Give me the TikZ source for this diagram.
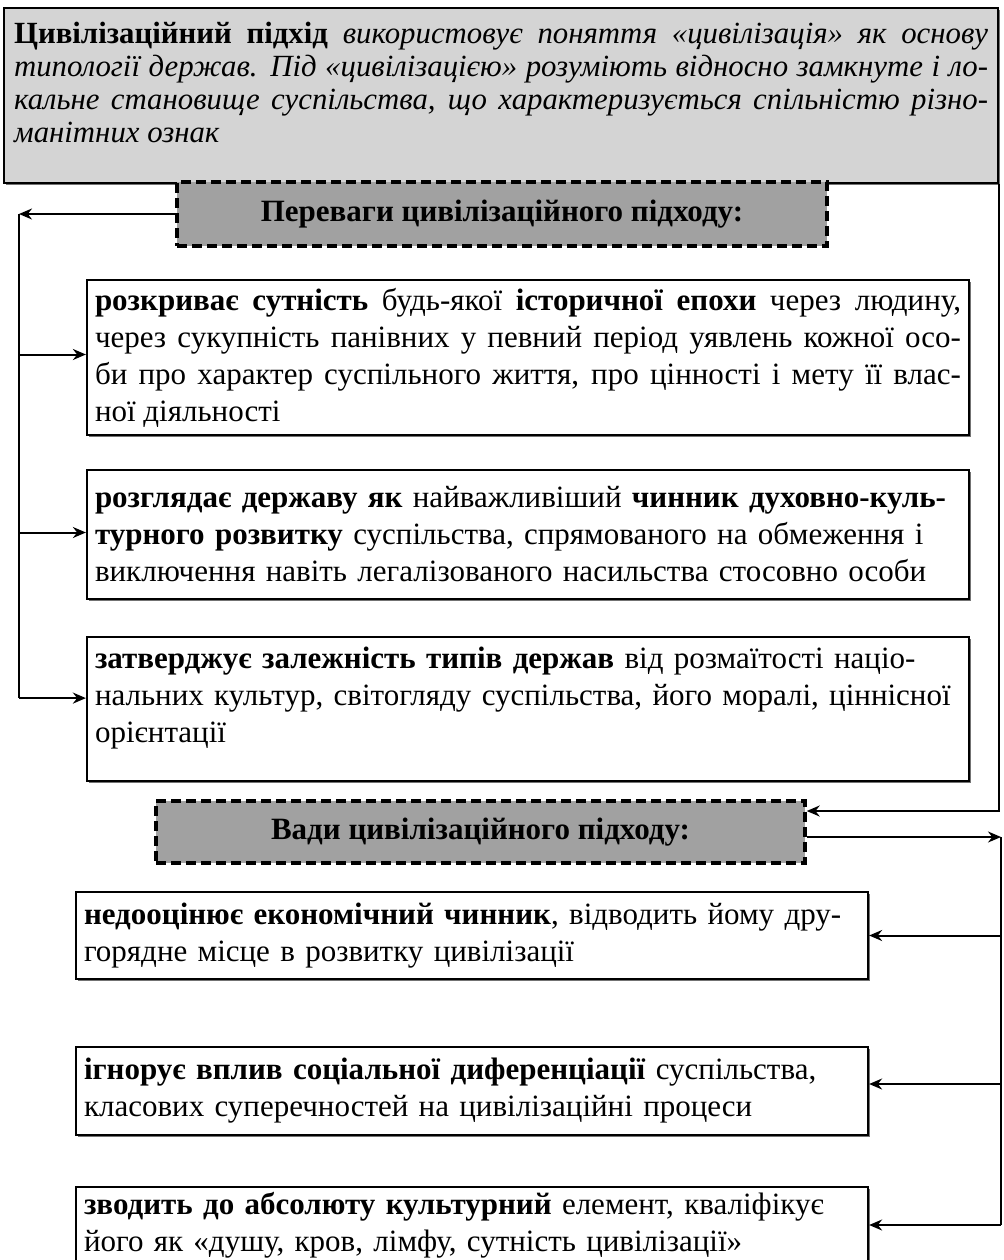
\documentclass[tikz,border=0pt]{standalone}
\usepackage{fontspec}
\setmainfont{Liberation Serif}
\usepackage{tikz}
\usetikzlibrary{arrows.meta, shadows}
\definecolor{introgray}{gray}{0.83}
\definecolor{headgray}{gray}{0.63}
\tolerance=9999

\begin{document}
\begin{tikzpicture}[x=0.5pt, y=-0.5pt, >={Stealth[length=6.5pt, width=5.5pt]},
	link/.style={line width=1pt},
	arr/.style={->, line width=1pt},
	shade/.style={drop shadow={shadow xshift=0.8pt, shadow yshift=-0.8pt, fill=black!55, opacity=1}},
	box/.style={draw, line width=1.1pt, fill=white, shade, inner xsep=4pt, inner ysep=0pt,
		align=left, font={\fontsize{15.5}{18.5}\selectfont}},
	head/.style={draw, line width=1.7pt, dash pattern=on 5pt off 2.5pt, fill=headgray,
		font={\bfseries\fontsize{15.5}{18}\selectfont}}]
	\useasboundingbox (0,0) rectangle (1003,1260);
	\node[draw, line width=1.1pt, fill=introgray, shade, anchor=north west, inner xsep=5pt, inner ysep=0pt,
		text width=487pt, text height=17.5pt, text depth=70pt, align=justify,
		font={\itshape\fontsize{15.4}{16.5}\selectfont}] (intro) at (3,7)
	{\textbf{\upshape Цивілізаційний підхід} використовує поняття «цивілізація» як основу\linebreak
		типології держав. Під «цивілізацією» розуміють відносно замкнуте і ло-\linebreak
		кальне становище суспільства, що характеризується спільністю різно-\linebreak
		манітних ознак};
	\node[head, minimum width=325pt, minimum height=32pt] (adv) at (502,214)
	{Переваги цивілізаційного підходу:};
	\node[box, text width=433pt, minimum height=77.5pt, align=justify] (pro1) at (528,357.5)
	{\textbf{розкриває сутність} будь-якої \textbf{історичної епохи} через людину,\linebreak
		через сукупність панівних у певний період уявлень кожної осо-\linebreak
		би про характер суспільного життя, про цінності і мету її влас-\linebreak
		ної діяльності};
	\node[box, text width=433pt, minimum height=64.5pt] (pro2) at (528,534.5)
	{\textbf{розглядає державу як} найважливіший \textbf{чинник духовно-куль-}\\
		\textbf{турного розвитку} суспільства, спрямованого на обмеження і\\
		виключення навіть легалізованого насильства стосовно особи};
	\node[box, text width=433pt, text height=15.5pt, text depth=56.5pt, anchor=north] (pro3) at (528,636)
	{\textbf{затверджує залежність типів держав} від розмаїтості націо-\\
		нальних культур, світогляду суспільства, його моралі, ціннісної\\
		орієнтації};
	\node[head, minimum width=324.5pt, minimum height=31pt] (cons) at (480.5,832)
	{Вади цивілізаційного підходу:};
	\node[box, text width=388pt, minimum height=43.5pt] (con1) at (472,935.5)
	{\textbf{недооцінює економічний чинник}, відводить йому дру-\\
		горядне місце в розвитку цивілізації};
	\node[box, text width=388pt, minimum height=44pt] (con2) at (472,1091)
	{\textbf{ігнорує вплив соціальної диференціації} суспільства,\\
		класових суперечностей на цивілізаційні процеси};
	\node[box, text width=388pt, minimum height=38pt] (con3) at (472,1225)
	{\textbf{зводить до абсолюту культурний} елемент, кваліфікує\\
		його як «душу, кров, лімфу, сутність цивілізації»};
	\coordinate (lspine) at (19,0);
	\coordinate (rspine) at (1001,0);
	\draw[arr] (adv.west) -- (adv.west -| lspine);
	\draw[link] (adv.west -| lspine) -- ([yshift=5.5pt]pro3.west -| lspine);
	\foreach \b/\s in {pro1/1.5pt, pro2/1pt, pro3/5.5pt}
	\draw[arr] ([yshift=\s]\b.west -| lspine) -- ([yshift=\s]\b.west);
	\draw[arr] (intro.south east) |- ([yshift=10.5pt]cons.east);
	\draw[arr] ([yshift=-2.5pt]cons.east) -- ([yshift=-2.5pt]cons.east -| rspine);
	\draw[link] ([yshift=-2.5pt]cons.east -| rspine) -- (con3.east -| rspine);
	\foreach \b/\s in {con1/0pt, con2/3.5pt, con3/0pt}
	\draw[arr] ([yshift=\s]\b.east -| rspine) -- ([yshift=\s]\b.east);
\end{tikzpicture}
\end{document}
